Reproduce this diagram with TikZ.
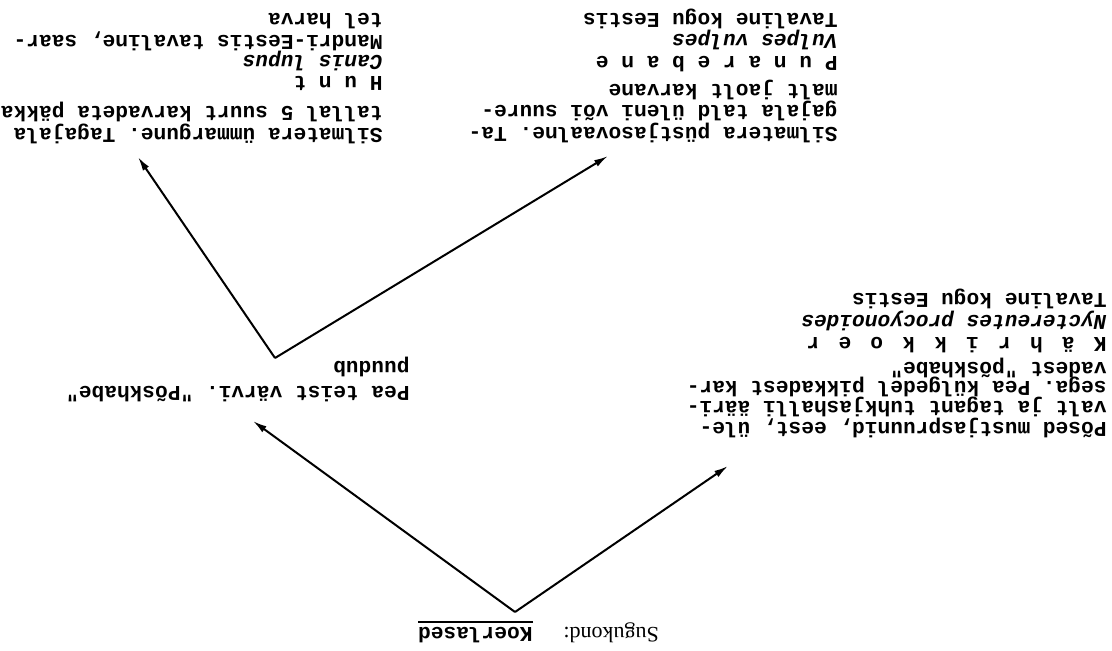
\documentclass[tikz,border=0pt]{standalone}
\usepackage{fontspec}
\setmonofont{Liberation Mono}
\newfontfamily\sugufont{Liberation Serif}
\usetikzlibrary{arrows.meta}
\newcommand\kgap{\hspace{9.6pt}}
\begin{document}
\begin{tikzpicture}[x=0.5pt,y=-0.5pt,
  ln/.style={rotate=180, anchor=mid west, inner sep=0pt,
    font=\fontsize{10.6}{12}\selectfont\ttfamily\bfseries},
  sp/.style={ln, font=\fontsize{10.6}{12}\selectfont\ttfamily\bfseries\itshape},
  arr/.style={line width=1pt, -{Latex[length=7pt,width=3.6pt]}}]
\useasboundingbox (0,0) rectangle (1112,650);

% root
\node[ln] (koer) at (533,632) {Koerlased};
\draw[line width=1pt] ([yshift=3pt]koer.base west) -- ([yshift=3pt]koer.base east);
\node[rotate=180, anchor=mid east, inner sep=0pt, font=\fontsize{11}{13}\selectfont\sugufont] (sugu) at (563,632) {Sugukond:};

% branch points
\coordinate (root) at (515,612);
\coordinate (tipD) at (728,466);
\coordinate (tipC) at (253,421);
\coordinate (mid) at (275,358);
\coordinate (tipB) at (138,157);
\coordinate (tipA) at (608,156);

\draw[arr] (root) -- (tipD);
\draw[arr] (root) -- (tipC);
\draw[arr] (mid) -- (tipB);
\draw[arr] (mid) -- (tipA);

% block D: Kahrikkoer
\node[ln] (d1) at (1107,427) {Põsed mustjaspruunid, eest, üle-};
\node[ln] (d2) at (1107,406) {valt ja tagant tuhkjashalli ääri-};
\node[ln] (d3) at (1107,386) {sega. Pea külgedel pikkadest kar-};
\node[ln] (d4) at (1107,367) {vadest "põskhabe"};
\node[ln] (d5) at (1107,342) {K\kgap ä\kgap h\kgap r\kgap i\kgap k\kgap k\kgap o\kgap e\kgap r};
\node[sp] (d6) at (1107,320) {Nyctereutes procyonoides};
\node[ln] (d7) at (1107,298) {Tavaline kogu Eestis};

% block C
\node[ln] (c1) at (410,391) {Pea teist värvi. "Põskhabe"};
\node[ln] (c2) at (410,366) {puudub};

% block A: Punarebane
\node[ln] (a1) at (838,132) {Silmatera püstjasovaalne. Ta-};
\node[ln] (a2) at (838,110) {gajala tald üleni või suure-};
\node[ln] (a3) at (838,89) {malt jaolt karvane};
\node[ln] (a4) at (838,61) {P u n a r e b a n e};
\node[sp] (a5) at (838,39) {Vulpes vulpes};
\node[ln] (a6) at (838,18) {Tavaline kogu Eestis};

% block B: Hunt
\node[ln] (b1) at (383,133) {Silmatera ümmargune. Tagajala};
\node[ln] (b2) at (383,111) {tallal 5 suurt karvadeta päkka};
\node[ln] (b3) at (383,81) {H u n t};
\node[sp] (b4) at (383,60) {Canis lupus};
\node[ln] (b5) at (383,40) {Mandri-Eestis tavaline, saar-};
\node[ln] (b6) at (383,18) {tel harva};
\end{tikzpicture}
\end{document}
